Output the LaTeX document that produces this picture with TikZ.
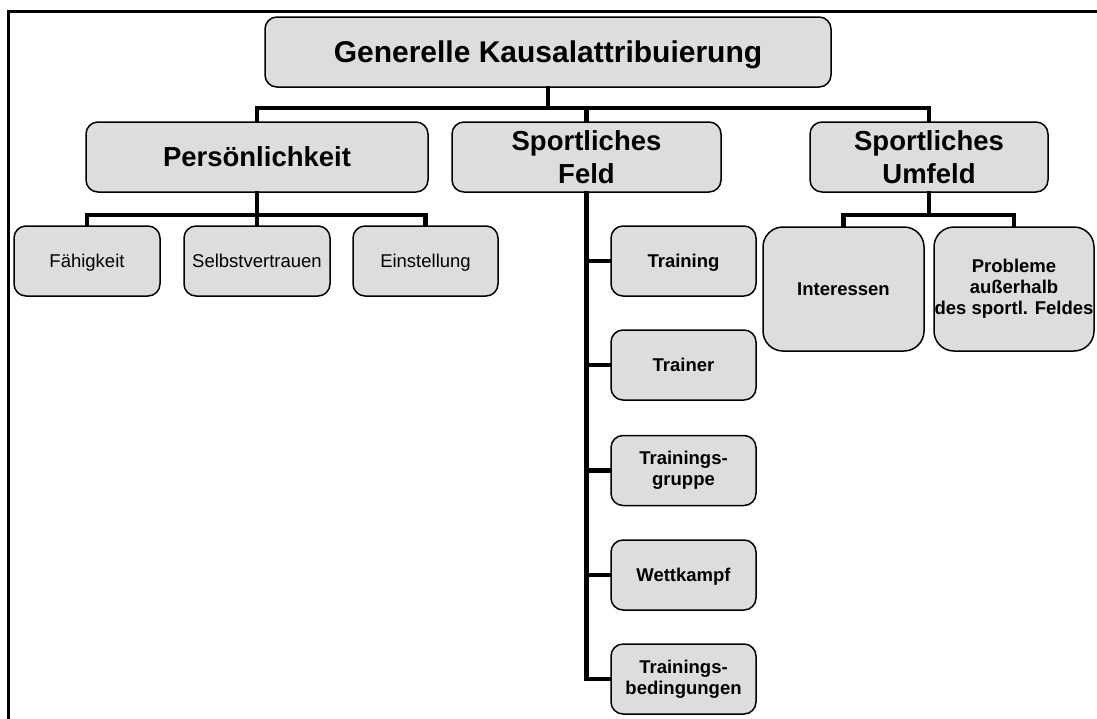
\documentclass[tikz,border=0pt]{standalone}
\usepackage{fontspec}
\setmainfont{Liberation Sans}
\begin{document}
\begin{tikzpicture}[x=1pt,y=-1pt,
  box/.style={draw=black,line width=1.5pt,fill=boxgray,rounded corners=12pt,
    inner sep=0pt,align=center,text=black},
  bigbox/.style={box,rounded corners=20pt},
  conn/.style={draw=black,line width=4.2pt,line join=miter,line cap=rect},
  frame/.style={draw=black,line width=3pt,line join=miter},
  ttl/.style={font=\fontsize{30}{36}\selectfont\bfseries,text height=21.5pt,text depth=0pt},
  lvl/.style={font=\fontsize{27.5}{33}\selectfont\bfseries},
  lvlone/.style={lvl,text height=19.7pt,text depth=0pt},
  smallb/.style={font=\fontsize{18.5}{21}\selectfont\bfseries},
  smallbone/.style={smallb,text height=13.2pt,text depth=0pt},
  smallr/.style={font=\fontsize{18.5}{21}\selectfont,text height=13.2pt,text depth=0pt},
]
\definecolor{boxgray}{RGB}{221,221,221}
\useasboundingbox (0,0) rectangle (1097,718);
\clip (0,0) rectangle (1097,718);
\draw[frame] (8,730) -- (8,11) -- (1110,11);

% level 0
\node[box,ttl,minimum width=566pt,minimum height=70pt] (top) at (548,52) {Generelle Kausalattribuierung};
% level 1
\node[box,lvlone,minimum width=342pt,minimum height=70pt] (pers) at (257,157) {Persönlichkeit};
\node[box,lvl,minimum width=269pt,minimum height=70pt] (feld) at (586.5,157) {Sportliches\\Feld};
\node[box,lvl,minimum width=238pt,minimum height=70pt] (umf) at (929,157) {Sportliches\\Umfeld};
% Persoenlichkeit children
\node[box,smallr,minimum width=146pt,minimum height=70pt] (fae) at (87,261) {Fähigkeit};
\node[box,smallr,minimum width=146pt,minimum height=70pt] (selbst) at (257,261) {Selbstvertrauen};
\node[box,smallr,minimum width=145pt,minimum height=70pt] (einst) at (425.5,261) {Einstellung};
% Feld children
\node[box,smallbone,minimum width=145pt,minimum height=70pt] (training) at (683.5,261) {Training};
\node[box,smallbone,minimum width=145pt,minimum height=70pt] (trainer) at (683.5,365) {Trainer};
\node[box,smallb,minimum width=145pt,minimum height=70pt] (gruppe) at (683.5,470.5) {Trainings-\\gruppe};
\node[box,smallbone,minimum width=145pt,minimum height=70pt] (wett) at (683.5,575) {Wettkampf};
\node[box,smallb,minimum width=145pt,minimum height=70pt] (bed) at (683.5,679) {Trainings-\\bedingungen};
% Umfeld children
\node[bigbox,smallbone,minimum width=161pt,minimum height=124pt] (inter) at (843.5,289) {Interessen};
\node[bigbox,smallb,minimum width=160pt,minimum height=124pt] (probl) at (1014,289) {Probleme\\außerhalb\\des sportl. Feldes};

% connectors
\coordinate (bus1) at (0,108);
\coordinate (bus2) at (0,215);
\path[conn] (top.south) -- (top.south |- bus1);
\path[conn] (pers.north) |- (umf.north |- bus1) -- (umf.north);
\path[conn] (feld.north) -- (feld.north |- bus1);

\path[conn] (pers.south) -- (pers.south |- bus2);
\path[conn] (fae.north) |- (einst.north |- bus2) -- (einst.north);
\path[conn] (selbst.north) -- (selbst.north |- bus2);

\path[conn] (feld.south) |- (bed.west);
\path[conn] (training.west) -- (training.west -| feld.south);
\path[conn] (trainer.west) -- (trainer.west -| feld.south);
\path[conn] (gruppe.west) -- (gruppe.west -| feld.south);
\path[conn] (wett.west) -- (wett.west -| feld.south);

\path[conn] (umf.south) -- (umf.south |- bus2);
\path[conn] (inter.north) |- (probl.north |- bus2) -- (probl.north);
\end{tikzpicture}
\end{document}
